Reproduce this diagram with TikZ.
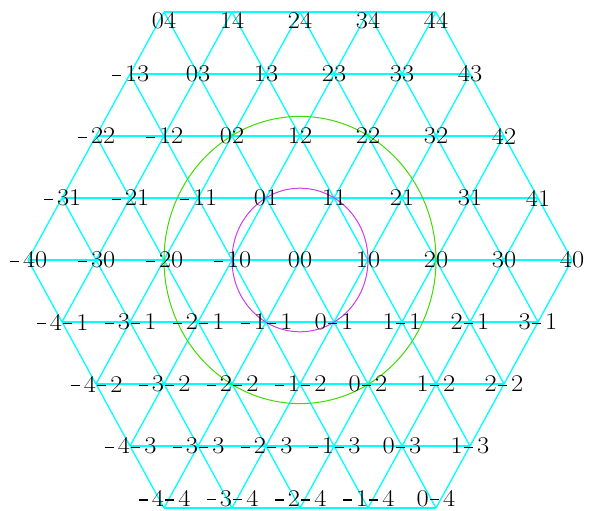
\documentclass[tikz,border=0pt]{standalone}
\usepackage{fontspec}
\usepackage{graphicx}
\definecolor{latcyan}{RGB}{0,255,255}
\definecolor{ringgreen}{RGB}{60,220,0}
\definecolor{ringmag}{RGB}{205,60,235}
\newcommand\mn{\kern1pt\rule[6pt]{8.5pt}{1.2pt}\kern3.5pt}
\newcommand\lbnum[1]{\ifnum#1<0 \mn\number\numexpr0-#1\relax\else#1\fi}
\tikzset{
  latline/.style={draw=latcyan, line width=1.3pt},
  hline/.style={fill=latcyan, draw=none},
  lbl/.style={inner sep=0pt, text=black, font=\fontsize{24}{24}\selectfont},
}
\begin{document}
\begin{tikzpicture}[x=1pt,y=-1pt]
\useasboundingbox (0,0) rectangle (590,511);
% lattice vertices
\foreach \j in {-4,...,4} {
  \pgfmathtruncatemacro\imin{max(-4,\j-4)}
  \pgfmathtruncatemacro\imax{min(4,\j+4)}
  \foreach \i in {\imin,...,\imax} {
    \pgfmathtruncatemacro\va{\i+4}
    \pgfmathtruncatemacro\vb{\j+4}
    \coordinate (p\va\vb) at ({300+68*\i-34*\j},{260-62*\j});
  }
}
% lines of constant i
\foreach \i in {-4,...,4} {
  \pgfmathtruncatemacro\va{\i+4}
  \pgfmathtruncatemacro\vb{max(-4,\i-4)+4}
  \pgfmathtruncatemacro\vc{min(4,\i+4)+4}
  \draw[latline] (p\va\vb) -- (p\va\vc);
}
% lines of constant i-j
\foreach \k in {-4,...,4} {
  \pgfmathtruncatemacro\jl{max(-4,-4-\k)}
  \pgfmathtruncatemacro\jh{min(4,4-\k)}
  \pgfmathtruncatemacro\va{\jl+\k+4}
  \pgfmathtruncatemacro\vb{\jl+4}
  \pgfmathtruncatemacro\vc{\jh+\k+4}
  \pgfmathtruncatemacro\vd{\jh+4}
  \draw[latline] (p\va\vb) -- (p\vc\vd);
}
% horizontal lines
\foreach \j in {-4,...,4} {
  \pgfmathtruncatemacro\va{max(-4,\j-4)+4}
  \pgfmathtruncatemacro\vc{min(4,\j+4)+4}
  \pgfmathtruncatemacro\vb{\j+4}
  \fill[hline] ([yshift=-0.7pt]p\va\vb) rectangle ([yshift=0.7pt]p\vc\vb);
}
% rings
\draw[ringgreen, line width=1pt] (p44) ellipse [x radius=136pt, y radius=143.6pt];
\draw[ringmag, line width=1pt] (p44) ellipse [x radius=68pt, y radius=71.8pt];
% labels
\foreach \j in {-4,...,4} {
  \pgfmathtruncatemacro\imin{max(-4,\j-4)}
  \pgfmathtruncatemacro\imax{min(4,\j+4)}
  \pgfmathsetmacro\dy{\j==4 ? -8.5 : (\j==-4 ? 9.5 : 0)}
  \foreach \i in {\imin,...,\imax} {
    \pgfmathtruncatemacro\va{\i+4}
    \pgfmathtruncatemacro\vb{\j+4}
    \node[lbl] (l\va\vb) at ([yshift=\dy pt]p\va\vb) {\scalebox{1.1}[1]{\lbnum{\i}\lbnum{\j}}};
  }
}
\end{tikzpicture}
\end{document}
